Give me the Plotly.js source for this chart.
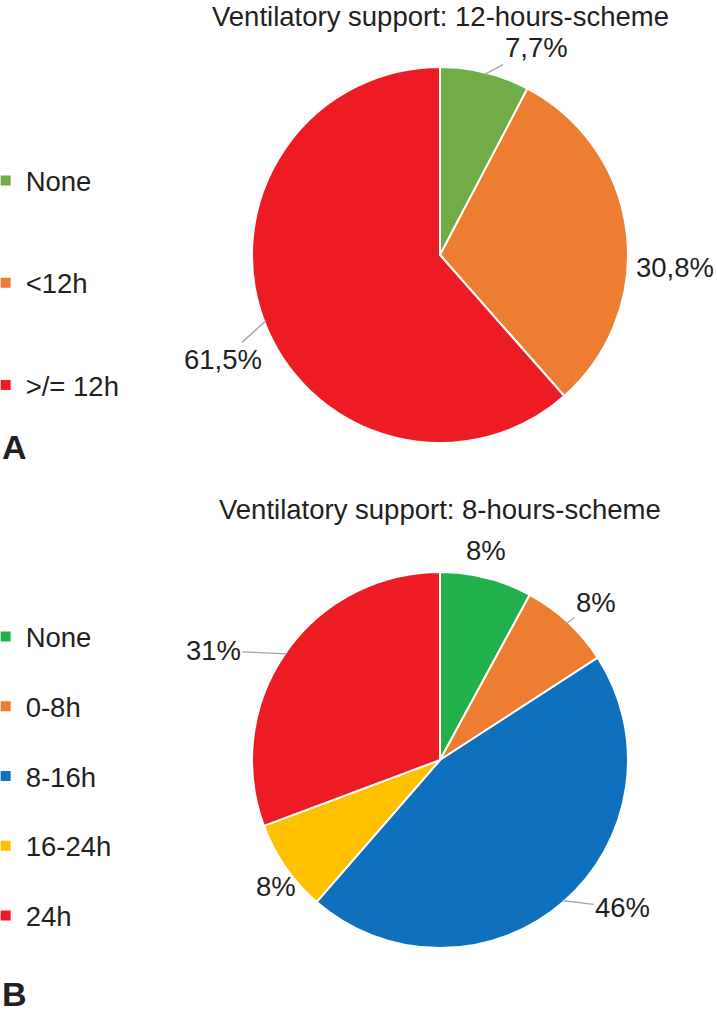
<!DOCTYPE html>
<html>
<head>
<meta charset="utf-8">
<script src="https://cdn.plot.ly/plotly-3.0.1.min.js"></script>
<style>html,body{margin:0;padding:0;background:#fff;}#chart{width:717px;height:1015px;}</style>
</head>
<body>
<div id="chart"></div>
<script>
// ---- data ----
const topTitle = 'Ventilatory support: 12-hours-scheme';
const topLabels = ['None', '<12h', '>/= 12h'];
const topValues = [7.7, 30.8, 61.5];
const topColors = ['#70AD47', '#ED7D31', '#ED1C24'];

const botTitle = 'Ventilatory support: 8-hours-scheme';
const botLabels = ['None', '0-8h', '8-16h', '16-24h', '24h'];
const botValues = [8, 8, 46, 8, 31];
const botColors = ['#22B04C', '#ED7D31', '#0F70BD', '#FFC000', '#ED1C24'];

const panelLetters = ['A', 'B'];

// ---- styling / placement ----
const W = 717, H = 1015;
const FONT = 'Liberation Sans, Arial, sans-serif';
const FS = 27.5;
const topDomain = {x: [252 / W, 628 / W], y: [1 - 443 / H, 1 - 67 / H]};
const botDomain = {x: [252 / W, 628 / W], y: [1 - 948 / H, 1 - 572 / H]};
const topLabelStyle = {dist: [1.215, 1.25, 1.28], dang: [11, 10, -5], line: [true, false, true]};
const botLabelStyle = {dist: [1.14, 1.18, 1.25, 1.10, 1.34], dang: [-2, 2, -10, -3, -9], line: [false, true, true, false, true]};

function fmtTop(v) { return v.toFixed(1).replace('.', ',') + '%'; }
function fmtBot(v) { return Math.round(v) + '%'; }

function labelAnnotations(values, domain, style, fmt) {
  const cx = (domain.x[0] + domain.x[1]) / 2 * W;
  const cy = (1 - (domain.y[0] + domain.y[1]) / 2) * H;
  const r = Math.min((domain.x[1] - domain.x[0]) * W, (domain.y[1] - domain.y[0]) * H) / 2;
  const total = values.reduce((a, b) => a + b, 0);
  let cum = 0;
  const anns = [];
  values.forEach((v, i) => {
    const mid = (cum + v / 2) / total * 360;
    cum += v;
    const ta = (mid + style.dang[i]) * Math.PI / 180;
    const tx = cx + r * style.dist[i] * Math.sin(ta);
    const ty = cy - r * style.dist[i] * Math.cos(ta);
    const base = {text: fmt(v), font: {family: FONT, size: FS, color: '#231F20'}, xref: 'paper', yref: 'paper', xanchor: 'center', yanchor: 'middle'};
    if (style.line[i]) {
      const ma = mid * Math.PI / 180;
      const ex = cx + r * 0.99 * Math.sin(ma);
      const ey = cy - r * 0.99 * Math.cos(ma);
      anns.push(Object.assign(base, {x: ex / W, y: 1 - ey / H, showarrow: true, arrowhead: 0, arrowwidth: 1.4, arrowcolor: '#A6A6A6', standoff: 0, ax: tx - ex, ay: ty - ey}));
    } else {
      anns.push(Object.assign(base, {x: tx / W, y: 1 - ty / H, showarrow: false}));
    }
  });
  return anns;
}

const traces = [
  {type: 'pie', labels: topLabels, values: topValues, domain: topDomain, sort: false, direction: 'clockwise', rotation: 0,
   marker: {colors: topColors, line: {color: '#FFFFFF', width: 2}}, textinfo: 'none', hoverinfo: 'label+percent', showlegend: false},
  {type: 'pie', labels: botLabels, values: botValues, domain: botDomain, sort: false, direction: 'clockwise', rotation: 0,
   marker: {colors: botColors, line: {color: '#FFFFFF', width: 2}}, textinfo: 'none', hoverinfo: 'label+percent', showlegend: false}
];
topLabels.forEach((l, i) => traces.push({type: 'scatter', x: [null], y: [null], mode: 'markers', name: l, legend: 'legend', legendgroup: 't' + i,
  marker: {symbol: 'square', size: 10, color: topColors[i]}, showlegend: true, hoverinfo: 'skip'}));
botLabels.forEach((l, i) => traces.push({type: 'scatter', x: [null], y: [null], mode: 'markers', name: l, legend: 'legend2', legendgroup: 'b' + i,
  marker: {symbol: 'square', size: 10, color: botColors[i]}, showlegend: true, hoverinfo: 'skip'}));

const annotations = [
  {text: topTitle, x: 440 / W, y: 1, xref: 'paper', yref: 'paper', showarrow: false, xanchor: 'center', yanchor: 'top', borderpad: 0, font: {family: FONT, size: FS, color: '#231F20'}},
  {text: botTitle, x: 440 / W, y: 1 - 509 / H, xref: 'paper', yref: 'paper', showarrow: false, xanchor: 'center', yanchor: 'middle', font: {family: FONT, size: FS, color: '#231F20'}},
  {text: '<b>' + panelLetters[0] + '</b>', x: 0, y: 1 - 447 / H, xref: 'paper', yref: 'paper', showarrow: false, xanchor: 'left', yanchor: 'middle', font: {family: FONT, size: 34, color: '#231F20'}},
  {text: '<b>' + panelLetters[1] + '</b>', x: 0, y: 0, xref: 'paper', yref: 'paper', showarrow: false, xanchor: 'left', yanchor: 'bottom', font: {family: FONT, size: 34, color: '#231F20'}}
].concat(labelAnnotations(topValues, topDomain, topLabelStyle, fmtTop))
 .concat(labelAnnotations(botValues, botDomain, botLabelStyle, fmtBot));

const layout = {
  width: W, height: H,
  margin: {l: 0, r: 0, t: 0, b: 0, autoexpand: false},
  paper_bgcolor: '#FFFFFF', plot_bgcolor: '#FFFFFF',
  xaxis: {visible: false, domain: [0, 0.01]}, yaxis: {visible: false, domain: [0, 0.01]},
  legend: {x: -0.02, xanchor: 'left', y: 1 - 156 / H, yanchor: 'top', tracegroupgap: 63.5, traceorder: 'grouped',
    font: {family: FONT, size: FS, color: '#231F20'}, bgcolor: 'rgba(0,0,0,0)', itemclick: false, itemdoubleclick: false},
  legend2: {x: -0.02, xanchor: 'left', y: 1 - 612 / H, yanchor: 'top', tracegroupgap: 31, traceorder: 'grouped',
    font: {family: FONT, size: FS, color: '#231F20'}, bgcolor: 'rgba(0,0,0,0)', itemclick: false, itemdoubleclick: false},
  annotations: annotations
};

Plotly.newPlot('chart', traces, layout, {displayModeBar: false, staticPlot: true});
</script>
</body>
</html>
